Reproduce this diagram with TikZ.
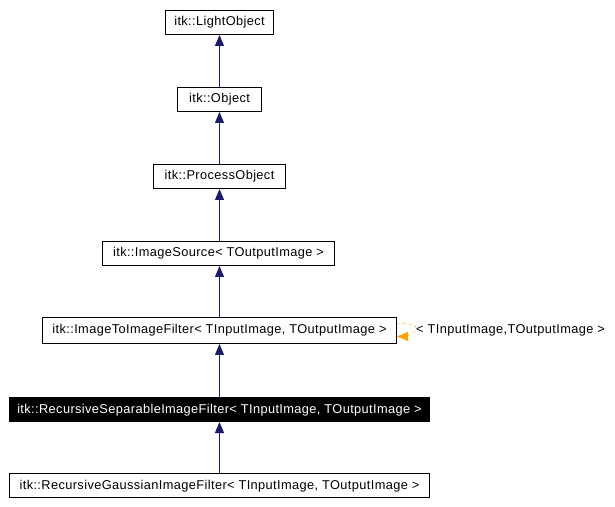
\documentclass[tikz,border=0pt]{standalone}
\usepackage{fontspec}
\setmainfont{Liberation Sans}
\newfontfamily\graphfont[LetterSpace=3]{Liberation Sans}
\usepackage{xcolor}
\usetikzlibrary{arrows.meta}
\definecolor{edgeblue}{RGB}{25, 25, 112}
\definecolor{tmplorange}{RGB}{255, 165, 0}

\begin{document}
\begin{tikzpicture}[x=1pt, y=1pt, >={Triangle[length=11pt, width=9pt]}]
    \tikzset{
      cls/.style={draw, line width=1pt, fill=white, minimum height=24pt, inner sep=0pt,
                  text height=9pt, text depth=2pt,
                  font=\graphfont\fontsize{12.8}{14}\selectfont},
      inherit/.style={<-, line width=1pt, edgeblue}
    }
    \useasboundingbox (0,0) rectangle (615,506);

    \node[cls, minimum width=108pt] (light)   at (219.5,483.5) {itk::LightObject};
    \node[cls, minimum width=84pt]  (object)  at (219.5,406.5) {itk::Object};
    \node[cls, minimum width=132pt] (process) at (219.5,329.5) {itk::ProcessObject};
    \node[cls, minimum width=232pt] (source)  at (218.5,252.5) {itk::ImageSource< TOutputImage >};
    \node[cls, minimum width=354pt, minimum height=26pt] (imgtoimg) at (219.5,175.5) {itk::ImageToImageFilter< TInputImage, TOutputImage >};
    \node[cls, minimum width=420pt, fill=black, text=white] (recsep) at (219.5,96.5) {itk::RecursiveSeparableImageFilter< TInputImage, TOutputImage >};
    \node[cls, minimum width=420pt] (recgauss) at (219.5,20.5) {itk::RecursiveGaussianImageFilter< TInputImage, TOutputImage >};

    \draw[inherit] (light) -- (object);
    \draw[inherit] (object) -- (process);
    \draw[inherit] (process) -- (process |- source.north);
    \draw[inherit] (source.south -| imgtoimg.north) -- (imgtoimg);
    \draw[inherit] (imgtoimg) -- (recsep);
    \draw[inherit] (recsep) -- (recgauss);

    % template instance loop
    \node[anchor=west, inner sep=0pt, text height=9pt, text depth=2pt, font=\graphfont\fontsize{12.8}{14}\selectfont] (tmpl) at (416,175.5) {< TInputImage,TOutputImage >};
    \draw[->, tmplorange, thin, dashed] ([yshift=7pt]imgtoimg.east) .. controls +(14,0) and +(4,6) .. ([xshift=-1pt]tmpl.west)
        .. controls +(-6,-6) and +(8,0) .. ([yshift=-6pt]imgtoimg.east);
\end{tikzpicture}
\end{document}
